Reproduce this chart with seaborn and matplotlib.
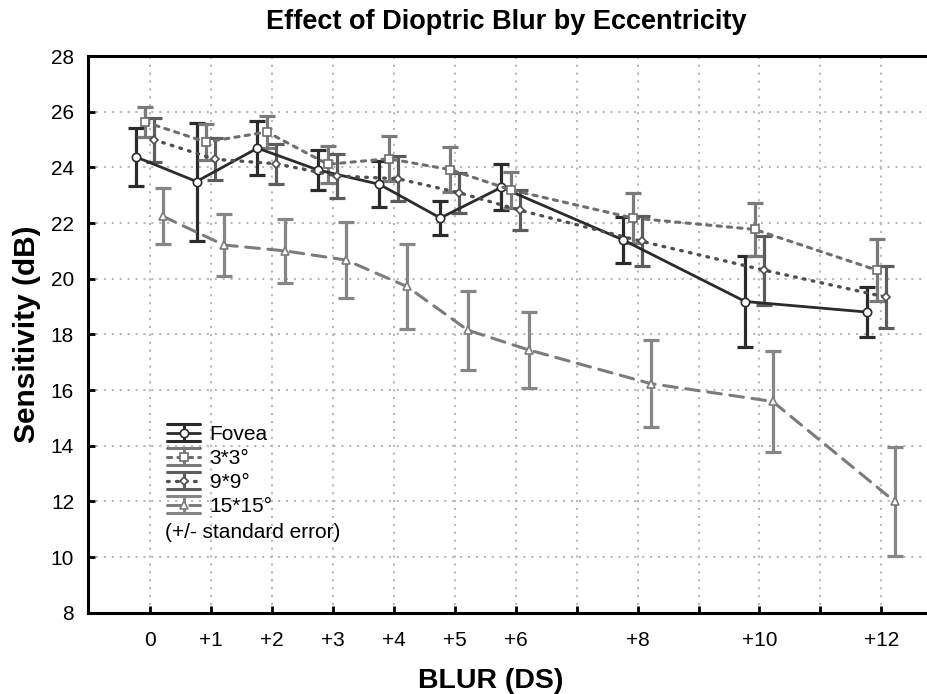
import numpy as np
import pandas as pd
import matplotlib
matplotlib.use("Agg")
import matplotlib.pyplot as plt
import seaborn as sns
from matplotlib.lines import Line2D
from matplotlib.legend_handler import HandlerBase

# ---------------- data ----------------
blur = [0, 1, 2, 3, 4, 5, 6, 8, 10, 12]
tick_positions = [0, 1, 2, 3, 4, 5, 6, 7, 8, 9, 10, 11, 12]
tick_labels = ["0", "+1", "+2", "+3", "+4", "+5", "+6", "", "+8", "", "+10", "", "+12"]
series_names = ["Fovea", "3*3°", "9*9°", "15*15°"]

fovea = [24.38, 23.49, 24.69, 23.90, 23.39, 22.18, 23.28, 21.39, 19.18, 18.80]
fovea_se = [1.04, 2.12, 0.96, 0.73, 0.83, 0.62, 0.83, 0.83, 1.63, 0.90]
ecc3 = [25.63, 24.91, 25.27, 24.11, 24.31, 23.92, 23.19, 22.18, 21.77, 20.31]
ecc3_se = [0.53, 0.65, 0.57, 0.67, 0.80, 0.82, 0.65, 0.90, 0.96, 1.10]
ecc9 = [24.99, 24.29, 24.13, 23.69, 23.59, 23.09, 22.46, 21.34, 20.31, 19.34]
ecc9_se = [0.79, 0.76, 0.72, 0.80, 0.80, 0.72, 0.71, 0.90, 1.24, 1.10]
ecc15 = [22.24, 21.21, 21.00, 20.67, 19.72, 18.15, 17.44, 16.23, 15.59, 12.00]
ecc15_se = [1.00, 1.12, 1.15, 1.38, 1.52, 1.42, 1.36, 1.57, 1.80, 1.95]

# ---------------- style ----------------
sns.set_theme(style="ticks")
plt.rcParams["font.family"] = ["Liberation Sans", "DejaVu Sans"]
for k in ["text.color", "axes.labelcolor", "xtick.color", "ytick.color"]:
    plt.rcParams[k] = "black"

offsets = [-0.235, -0.08, 0.07, 0.215]
styles = [
    dict(line="#2b2b2b", err="#2b2b2b", marker="o", ms=6.0, lw=2.0, dashes=None),
    dict(line="#6e6e6e", err="#7a7a7a", marker="s", ms=6.0, lw=2.2, dashes=(1.4, 2.0)),
    dict(line="#4f4f4f", err="#5c5c5c", marker="D", ms=4.4, lw=2.4, dashes=(0.5, 2.2)),
    dict(line="#7c7c7c", err="#868686", marker="^", ms=6.0, lw=2.2, dashes=(4.5, 2.8)),
]
means = [fovea, ecc3, ecc9, ecc15]
ses = [fovea_se, ecc3_se, ecc9_se, ecc15_se]

W, H = 927, 694
fig = plt.figure(figsize=(W / 100, H / 100), dpi=100)
ax = fig.add_axes([88 / W, 1 - 612.7 / H, (W - 88) / W + 0.01, (612.7 - 56) / H])

for name, m, se, off, st in zip(series_names, means, ses, offsets, styles):
    xs = np.array(blur, dtype=float) + off
    df = pd.DataFrame({"x": xs, "y": m})
    ax.errorbar(xs, m, yerr=se, fmt="none", ecolor=st["err"], elinewidth=2.3,
                capsize=6.0, capthick=2.3, zorder=2)
    sns.lineplot(data=df, x="x", y="y", ax=ax, color=st["line"], linewidth=st["lw"],
                 marker=st["marker"], markersize=st["ms"], markerfacecolor="white",
                 markeredgecolor=st["line"], markeredgewidth=1.2, zorder=3,
                 estimator=None, sort=False)
    ln = ax.lines[-1]
    if st["dashes"] is not None:
        ln.set_dashes(st["dashes"])
        ln.set_dash_capstyle("round")

ax.set_xlim(-1.015, 12.9)
ax.set_ylim(8, 28)
ax.set_xticks(tick_positions)
ax.set_xticklabels(tick_labels)
ax.set_yticks(np.arange(8, 29, 2))
ax.tick_params(direction="in", length=5, width=2, labelsize=15, colors="black")
ax.tick_params(axis="y", pad=10)
ax.tick_params(axis="x", pad=13)
ax.grid(True, color="#b8b8b8", linestyle=(0, (1, 2.8)), linewidth=1.5)
ax.set_axisbelow(True)
for s in ["left", "bottom", "top"]:
    ax.spines[s].set_linewidth(2.2)
    ax.spines[s].set_color("black")
ax.spines["right"].set_visible(False)
ax.set_xlabel("")
ax.set_ylabel("")

fig.text(491 / W, 1 - 681 / H, "BLUR (DS)", ha="center", va="center",
         fontsize=20.5, fontweight="bold")
fig.text(27 / W, 1 - 334 / H, "Sensitivity (dB)", ha="center", va="center",
         rotation=90, fontsize=21.5, fontweight="bold")
fig.text(506 / W, 1 - 22 / H, "Effect of Dioptric Blur by Eccentricity",
         ha="center", va="center", fontsize=19.5, fontweight="bold")


# ---------------- legend ----------------
class HandlerEB(HandlerBase):
    def create_artists(self, legend, orig_handle, xdescent, ydescent, width, height,
                       fontsize, trans):
        yc = height / 2 - ydescent
        d = 0.42 * fontsize
        ec = orig_handle.ecolor
        top = Line2D([-xdescent, width - xdescent], [yc + d, yc + d], color=ec, lw=2.2,
                     transform=trans)
        bot = Line2D([-xdescent, width - xdescent], [yc - d, yc - d], color=ec, lw=2.2,
                     transform=trans)
        vert = Line2D([width / 2 - xdescent] * 2, [yc - d, yc + d], color=ec, lw=2.2,
                      transform=trans)
        mid = Line2D([-xdescent, width - xdescent], [yc, yc], color=orig_handle.get_color(),
                     lw=orig_handle.get_linewidth(), transform=trans)
        if orig_handle.dsh is not None:
            mid.set_dashes(orig_handle.dsh)
            mid.set_dash_capstyle("round")
        mk = Line2D([width / 2 - xdescent], [yc], marker=orig_handle.get_marker(),
                    markersize=orig_handle.get_markersize(), markerfacecolor="white",
                    markeredgecolor=orig_handle.get_color(), markeredgewidth=1.2,
                    linestyle="none", transform=trans)
        return [top, bot, vert, mid, mk]


handles = []
for st in styles:
    h = Line2D([], [], color=st["line"], lw=st["lw"], marker=st["marker"],
               markersize=st["ms"])
    h.ecolor = st["err"]
    h.dsh = st["dashes"]
    handles.append(h)

leg = fig.legend(handles, series_names, loc="upper left",
                 bbox_to_anchor=(167 / W, 1 - 425 / H), frameon=False,
                 borderpad=0, borderaxespad=0, handlelength=1.6, handletextpad=0.45,
                 labelspacing=0.24, fontsize=15,
                 handler_map={Line2D: HandlerEB()})
fig.text(165 / W, 1 - 532 / H, "(+/- standard error)", ha="left", va="center",
         fontsize=15)

fig.savefig("out.png", dpi=100)
